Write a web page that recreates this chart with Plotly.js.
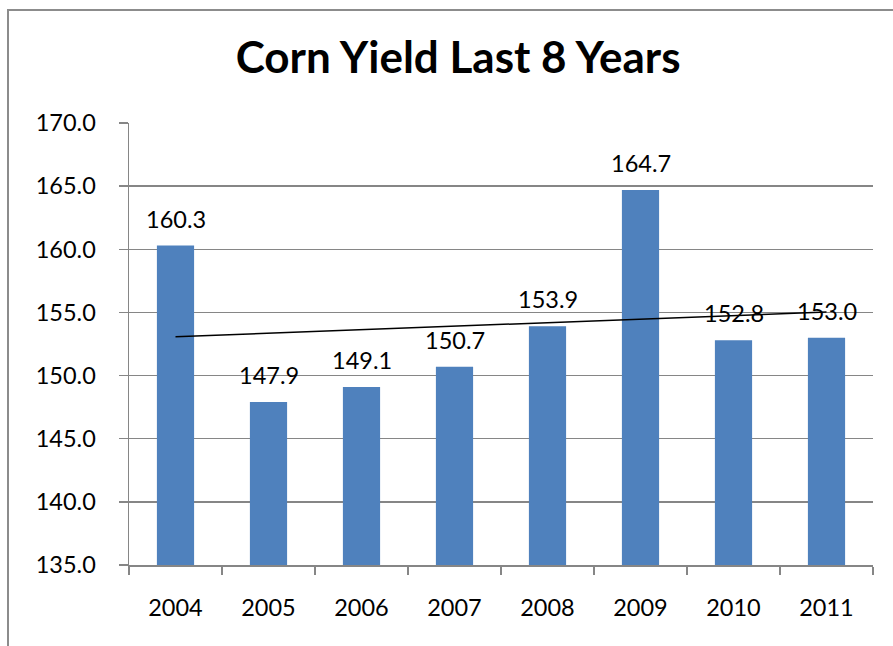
<!DOCTYPE html>
<html>
<head>
<meta charset="utf-8">
<script src="https://cdn.plot.ly/plotly-3.0.1.min.js"></script>
<style>
  html, body { margin: 0; padding: 0; overflow: hidden; background: #ffffff; }
  #frame { position: absolute; left: 7px; top: 9px; width: 1000px; height: 1000px;
           border: 2px solid #8c8c8c; box-sizing: border-box; }
  #chart { position: absolute; left: 0; top: 0; width: 893px; height: 646px; }
</style>
</head>
<body>
<div id="frame"></div>
<div id="chart"></div>
<script>
const years = ['2004', '2005', '2006', '2007', '2008', '2009', '2010', '2011'];
const yields = [160.3, 147.9, 149.1, 150.7, 153.9, 164.7, 152.8, 153.0];
const yTicks = [135, 140, 145, 150, 155, 160, 165, 170];

// linear trend line (least squares) fitted to the yields
const n = yields.length;
const xs = yields.map((_, i) => i + 1);
const mx = xs.reduce((a, b) => a + b, 0) / n;
const my = yields.reduce((a, b) => a + b, 0) / n;
let sxy = 0, sxx = 0;
for (let i = 0; i < n; i++) { sxy += (xs[i] - mx) * (yields[i] - my); sxx += (xs[i] - mx) ** 2; }
const slope = sxy / sxx, intercept = my - slope * mx;
const trendX = [years[0], years[n - 1]];
const trendY = [intercept + slope * xs[0], intercept + slope * xs[n - 1]];

const FONT = 'Lato, "Open Sans", sans-serif';

const traces = [
  { type: 'bar', x: years, y: yields, marker: { color: '#4f81bd' }, hoverinfo: 'x+y' },
  { type: 'scatter', mode: 'lines', x: trendX, y: trendY,
    line: { color: '#000000', width: 1.5 }, hoverinfo: 'skip' }
];

const annotations = years.map((yr, i) => ({
  x: i, y: yields[i], xref: 'x', yref: 'y', text: yields[i].toFixed(1),
  showarrow: false, yanchor: 'middle', yshift: 27,
  font: { family: FONT, size: 23.5, color: '#000000' }
}));

const layout = {
  width: 893, height: 646,
  margin: { l: 129, r: 20, t: 123, b: 81 },
  paper_bgcolor: 'rgba(0,0,0,0)', plot_bgcolor: '#ffffff',
  showlegend: false,
  bargap: 0.6,
  title: { text: 'Corn Yield Last 8 Years', x: 0.513, xanchor: 'center', y: 0.911, yanchor: 'middle',
           font: { family: FONT, size: 44, color: '#000000', weight: 'bold' } },
  xaxis: {
    type: 'category', categoryarray: years, range: [-0.5, years.length - 0.5],
    showgrid: false, showline: true, linecolor: '#868686', linewidth: 1.5,
    ticks: 'outside', tickson: 'boundaries', ticklen: 8, tickcolor: '#868686', tickwidth: 1.5,
    ticklabelstandoff: 21, tickangle: 0,
    tickfont: { family: FONT, size: 23.5, color: '#000000' }, fixedrange: true
  },
  yaxis: {
    range: [135, 170], tickvals: yTicks, ticktext: yTicks.map(v => v.toFixed(1)),
    showgrid: true, gridcolor: '#868686', gridwidth: 1.5, zeroline: false,
    showline: true, linecolor: '#868686', linewidth: 1.5,
    ticks: 'outside', ticklen: 9, tickcolor: '#868686', tickwidth: 1.5,
    ticklabelstandoff: 18,
    tickfont: { family: FONT, size: 23.5, color: '#000000' }, fixedrange: true
  },
  annotations: annotations
};

Plotly.newPlot('chart', traces, layout, { displayModeBar: false, staticPlot: true });
</script>
</body>
</html>
